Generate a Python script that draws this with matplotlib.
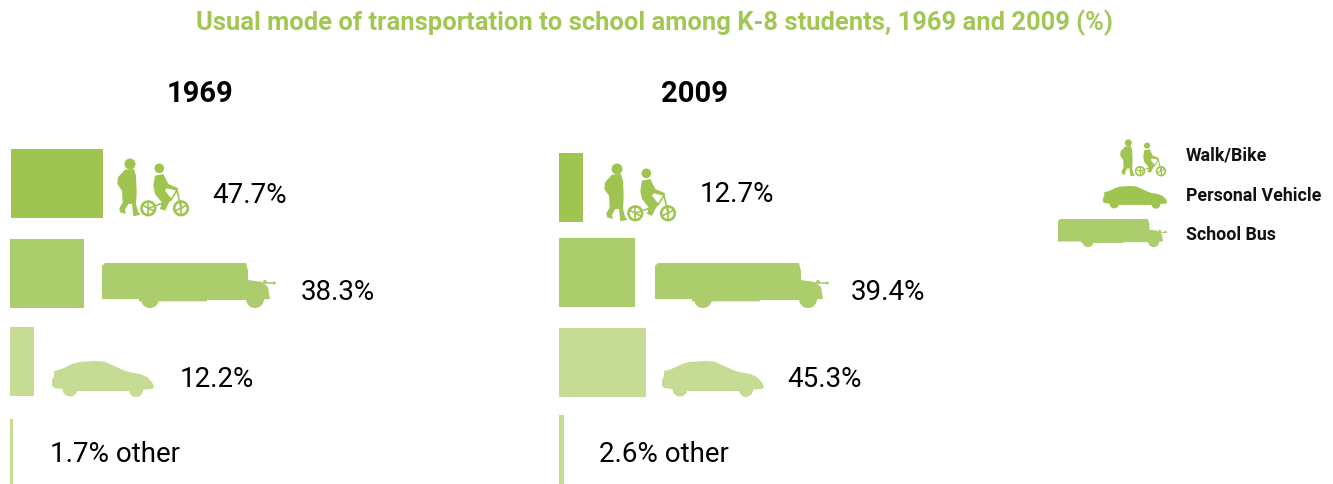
import matplotlib
matplotlib.use('Agg')
import matplotlib.pyplot as plt
from matplotlib.patches import Polygon, Circle

W, H = 1333, 485

modes = ['Walk/Bike', 'School Bus', 'Personal Vehicle', 'other']
values_1969 = [47.7, 38.3, 12.2, 1.7]
values_2009 = [12.7, 39.4, 45.3, 2.6]
bar_colors = ['#9FC44F', '#ABCD6B', '#C6DC94', '#C6DC94']
title = 'Usual mode of transportation to school among K-8 students, 1969 and 2009 (%)'

plt.rcParams['font.family'] = ['Roboto', 'DejaVu Sans']

# icon outlines, in pixels of the 1969 panel, origin at top left of the icon
CAR = [(2, 10), (8, 8.5), (14, 6), (20, 3), (27, 1), (43, 0), (52, 0.5), (60, 4), (70, 8.5), (77, 11),
       (88, 13), (95, 16), (100, 21), (102, 26), (100, 28), (92, 28.5), (77, 30), (27, 30), (10, 28),
       (2, 27), (0, 25), (0, 19), (2, 15)]
CAR_WHEELS = [(18, 28, 7.5), (84, 29, 7)]
BUS = [(0, 3), (3, 0), (144, 0), (146, 8), (146, 17), (160, 19), (166, 24), (168, 36), (146, 37),
       (105, 37), (105, 38.3), (37, 38.3), (37, 36), (0, 36)]
BUS_WHEELS = [(48, 36, 9), (153, 36, 9), (163, 19, 2), (172, 20, 1.5)]
BUS_LINES = [[(163, 20), (173, 20)]]
WALKER = [(8, 11.7), (17, 11), (19, 17.7), (19.7, 34.3), (19, 46), (21.3, 54.3), (23.7, 56.7), (16.3, 58.3),
          (15, 46), (11.3, 46), (8, 51.7), (8.7, 56), (3, 54.3), (2.3, 50.3), (5.7, 44.3), (5, 32.7),
          (0.3, 26), (1, 19.3)]
RIDER = [(38, 17.7), (46.3, 16), (51.3, 26), (61.3, 30.3), (59.7, 32.7), (49.7, 30.3), (48, 32.7),
         (54.7, 41), (51.3, 46), (48, 52.7), (43, 51), (44.7, 44.3), (38, 36), (36.3, 27.7)]
KID_HEADS = [(13, 6, 5.5), (42.3, 10.3, 4.8), (31.3, 50.3, 1.5), (64, 50.3, 1.5)]
KID_RINGS = [(31.3, 50.3, 6.8), (64, 50.3, 6.8)]
KID_LINES = [[(31.3, 50.3), (54, 42), (60, 32), (64, 50.3)],
             [(25, 47), (37, 53)], [(31, 44), (31, 57)], [(58, 53), (70, 47)], [(64, 44), (64, 57)]]


def draw_shape(ax, x0, y0, s, color, polys=(), discs=(), rings=(), lines=()):
    for pts in polys:
        ax.add_patch(Polygon([(x0 + s * a, y0 + s * b) for a, b in pts], closed=True, fc=color, ec='none'))
    for a, b, r in discs:
        ax.add_patch(Circle((x0 + s * a, y0 + s * b), s * r, fc=color, ec='none'))
    for a, b, r in rings:
        ax.add_patch(Circle((x0 + s * a, y0 + s * b), s * r, fc='none', ec=color, lw=1.9 * s))
    for pts in lines:
        ax.plot([x0 + s * p[0] for p in pts], [y0 + s * p[1] for p in pts], color=color, lw=1.2 * s)


def kids(ax, x0, y0, s=1.0, color=bar_colors[0]):
    draw_shape(ax, x0, y0, s, color, [WALKER, RIDER], KID_HEADS, KID_RINGS, KID_LINES)


def bus(ax, x0, y0, s=1.0, color=bar_colors[1]):
    draw_shape(ax, x0, y0, s, color, [BUS], BUS_WHEELS, lines=BUS_LINES)


def car(ax, x0, y0, s=1.0, color=bar_colors[2]):
    draw_shape(ax, x0, y0, s, color, [CAR], CAR_WHEELS)


fig = plt.figure(figsize=(W / 100, H / 100), dpi=100, facecolor='white')

# bars: one axes per year, x in percent
panels = [(values_1969, 10, [149, 239, 327, 419], 1.93, [0.5, 0, 0, 0]),
          (values_2009, 559, [153, 238, 328, 415], 1.92, [0, 0, 0, 0])]
for vals, left, tops, px_per_pct, nudge in panels:
    ax = fig.add_axes([left / W, 0, 100 * px_per_pct / W, 1])
    ax.set_xlim(0, 100)
    ax.set_ylim(H, 0)
    ax.axis('off')
    centers = [t + 35.1 for t in tops]
    ax.barh(centers, vals, left=nudge, height=69, color=bar_colors, linewidth=0)

# overlay in pixel coordinates for text and icons
ov = fig.add_axes([0, 0, 1, 1])
ov.set_xlim(0, W)
ov.set_ylim(H, 0)
ov.axis('off')
ov.patch.set_alpha(0)

ov.text(654, 30, title, color='#A2C755', fontsize=18.4, fontweight='bold', ha='center', va='baseline')
ov.text(200, 102, '1969', color='black', fontsize=21, fontweight='bold', ha='center', va='baseline')
ov.text(694, 102, '2009', color='black', fontsize=21, fontweight='bold', ha='center', va='baseline')

kids(ov, 117, 159)
bus(ov, 102, 264)
car(ov, 52, 362)
kids(ov, 604, 164)
bus(ov, 655, 264)
car(ov, 662, 362)

label_xy_1969 = [(249.5, 203), (337.5, 300), (217, 387), (114.5, 462)]
label_xy_2009 = [(737, 202), (888.5, 300), (824.5, 387), (663.5, 462)]
for vals, xy in [(values_1969, label_xy_1969), (values_2009, label_xy_2009)]:
    for i, v in enumerate(vals):
        s = f'{v}%' if i < 3 else f'{v}% {modes[3]}'
        ov.text(xy[i][0], xy[i][1], s, color='black', fontsize=20, ha='center', va='baseline')

# legend
kids(ov, 1120, 140, 0.64)
car(ov, 1103, 187, 0.63, color=bar_colors[0])
bus(ov, 1058, 220, 0.625)
for name, y in [(modes[0], 160.5), (modes[2], 201), (modes[1], 240.5)]:
    ov.text(1186, y, name, color='#111111', fontsize=12.8, fontweight='bold', ha='left', va='baseline')

fig.savefig('out.png', dpi=100)
